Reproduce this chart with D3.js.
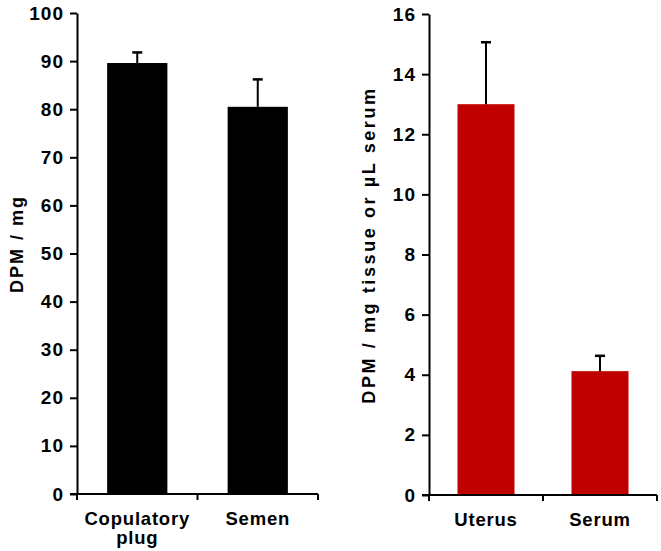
<!DOCTYPE html>
<html>
<head>
<meta charset="utf-8">
<script src="https://cdn.jsdelivr.net/npm/d3@7"></script>
<style>
  body { margin: 0; background: #fff; }
  text { font-family: "Liberation Sans", Arial, sans-serif; font-weight: bold; fill: #000; }
  .axis path, .axis line { stroke: #000; stroke-width: 2; }
  .axis text { font-size: 19px; letter-spacing: 1px; }
</style>
</head>
<body>
<div id="chart"></div>
<script>
// left panel
var leftCats = ["Copulatory plug", "Semen"];
var leftValues = [89.6, 80.5];
var leftErrors = [2.2, 5.7];
var leftTicks = [0, 10, 20, 30, 40, 50, 60, 70, 80, 90, 100];

// right panel
var rightCats = ["Uterus", "Serum"];
var rightValues = [13.0, 4.12];
var rightErrors = [2.06, 0.51];
var rightTicks = [0, 2, 4, 6, 8, 10, 12, 14, 16];

var svg = d3.select("#chart")
  .append("svg")
  .attr("width", 661)
  .attr("height", 551);

function drawPanel(opts) {
  var x = d3.scaleBand()
    .domain(opts.cats)
    .range([opts.left, opts.right])
    .paddingInner(0.5)
    .paddingOuter(0.25);

  var y = d3.scaleLinear()
    .domain([0, opts.max])
    .range([opts.bottom, opts.top]);

  var g = svg.append("g");

  // bars
  g.selectAll(".bar")
    .data(opts.values)
    .enter()
    .append("rect")
    .attr("class", "bar")
    .attr("x", function(d, i) { return x(opts.cats[i]); })
    .attr("y", function(d) { return y(d); })
    .attr("width", x.bandwidth())
    .attr("height", function(d) { return y(0) - y(d); })
    .attr("fill", opts.color);

  // error bars (upper only)
  var err = g.selectAll(".err")
    .data(opts.values)
    .enter()
    .append("g")
    .attr("class", "err");

  err.append("line")
    .attr("x1", function(d, i) { return x(opts.cats[i]) + x.bandwidth() / 2; })
    .attr("x2", function(d, i) { return x(opts.cats[i]) + x.bandwidth() / 2; })
    .attr("y1", function(d) { return y(d); })
    .attr("y2", function(d, i) { return y(d + opts.errors[i]); })
    .attr("stroke", "#000")
    .attr("stroke-width", 2);

  err.append("line")
    .attr("x1", function(d, i) { return x(opts.cats[i]) + x.bandwidth() / 2 - 5; })
    .attr("x2", function(d, i) { return x(opts.cats[i]) + x.bandwidth() / 2 + 5; })
    .attr("y1", function(d, i) { return y(d + opts.errors[i]); })
    .attr("y2", function(d, i) { return y(d + opts.errors[i]); })
    .attr("stroke", "#000")
    .attr("stroke-width", 2.5);

  // y axis
  g.append("g")
    .attr("class", "axis y-axis")
    .attr("transform", "translate(" + opts.left + ",0)")
    .call(d3.axisLeft(y).tickValues(opts.ticks).tickSize(7).tickSizeOuter(0).tickPadding(6));

  // x axis with ticks at band edges
  var xAxis = g.append("g")
    .attr("class", "axis x-axis")
    .attr("transform", "translate(0," + opts.bottom + ")");

  xAxis.append("line")
    .attr("x1", opts.left - 7)
    .attr("x2", opts.right)
    .attr("y1", 0)
    .attr("y2", 0);

  var edges = [opts.left, (opts.left + opts.right) / 2, opts.right];
  xAxis.selectAll(".edge")
    .data(edges)
    .enter()
    .append("line")
    .attr("class", "edge")
    .attr("x1", function(d) { return d; })
    .attr("x2", function(d) { return d; })
    .attr("y1", 0)
    .attr("y2", 6);

  // category labels
  var labels = xAxis.selectAll(".cat")
    .data(opts.cats)
    .enter()
    .append("text")
    .attr("class", "cat")
    .attr("text-anchor", "middle")
    .style("font-size", "18.5px")
    .style("letter-spacing", "0.8px")
    .attr("x", function(d) { return x(d) + x.bandwidth() / 2; })
    .attr("y", 31);

  labels.each(function(d) {
    var words = d.split(" ");
    var t = d3.select(this);
    words.forEach(function(w, i) {
      t.append("tspan")
        .attr("x", t.attr("x"))
        .attr("dy", i === 0 ? 0 : 19)
        .text(w);
    });
  });

  // y title
  svg.append("text")
    .attr("text-anchor", "middle")
    .style("font-size", "18px")
    .style("letter-spacing", opts.titleSpacing)
    .attr("transform", "translate(" + opts.titleX + "," + opts.titleY + ") rotate(-90)")
    .text(opts.title);
}

drawPanel({
  cats: leftCats, values: leftValues, errors: leftErrors, ticks: leftTicks,
  max: 100, left: 77, right: 318, top: 13, bottom: 494,
  color: "#000000", title: "DPM / mg", titleX: 23, titleY: 244, titleSpacing: "2px"
});

drawPanel({
  cats: rightCats, values: rightValues, errors: rightErrors, ticks: rightTicks,
  max: 16, left: 429, right: 657, top: 14, bottom: 495,
  color: "#c00000", title: "DPM / mg tissue or \u00b5L serum", titleX: 375, titleY: 245, titleSpacing: "2.6px"
});
</script>
</body>
</html>
